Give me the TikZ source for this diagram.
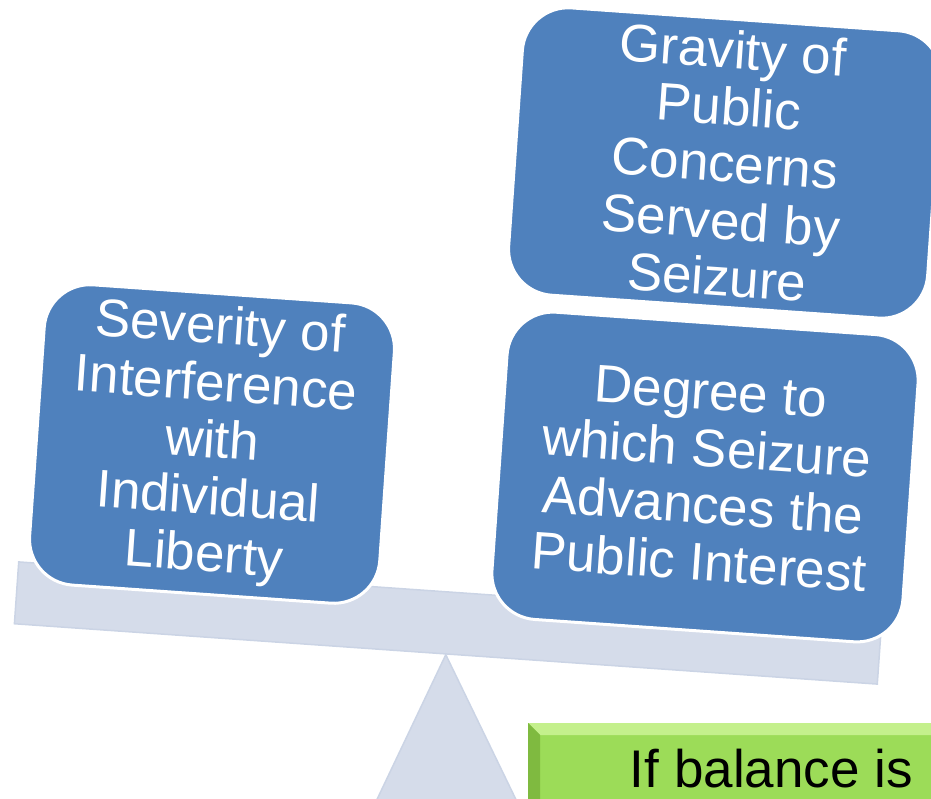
\documentclass[tikz,border=0pt]{standalone}
\usepackage{fontspec}
\setmainfont{Liberation Sans}
\usepackage{xcolor}
\usepackage{tikz}
\usetikzlibrary{positioning}

\definecolor{beamgray}{HTML}{D5DCEA}
\definecolor{beamedge}{HTML}{CBD4E5}
\definecolor{weightblue}{HTML}{4F81BD}
\definecolor{verdictgreen}{HTML}{9CDC58}
\definecolor{verdictlight}{HTML}{C4F08C}
\definecolor{verdictdark}{HTML}{7FBA40}

\begin{document}
\begin{tikzpicture}[x=1pt,y=-1pt]
					\tikzstyle{weight}=[rectangle,rounded corners=46pt,fill=weightblue,draw=white,line width=3pt,text=white,align=center,inner sep=0pt,rotate=-4,font=\fontsize{53}{57}\selectfont]
					\tikzstyle{plank}=[rectangle,fill=beamgray,draw=beamedge,line width=1.5pt,rotate=-4]
					\useasboundingbox (0,0) rectangle (931,799);
					\clip (0,0) rectangle (931,799);
					% beam and fulcrum
					\node[plank,minimum width=865,minimum height=62](beam) at (448,623){};
					\filldraw[fill=beamgray,draw=beamedge,line width=1.5pt] (beam.south) -- (371,812) -- (522,812) -- cycle;
					% the weights on the beam
					\node[weight,minimum width=351,minimum height=301](liberty) at (212,444){Severity of\\Interference\\with\\Individual\\Liberty};
					\node[weight,minimum width=412,minimum height=308](advance) at (705,477){Degree to\\which Seizure\\Advances the\\Public Interest};
					\node[weight,minimum width=420,minimum height=288](gravity) at (725,163){Gravity of\\Public\\Concerns\\Served by\\Seizure};
					% green result box, runs off the page
					\node[rectangle,fill=verdictgreen,anchor=north west,minimum width=420,minimum height=90,inner sep=0pt](verdict) at (528,723){};
					\fill[verdictlight] (verdict.north west) -- (verdict.north east) -- ++(0,12) -- ([shift={(12,12)}]verdict.north west) -- cycle;
					\fill[verdictdark] (verdict.north west) -- ([shift={(12,12)}]verdict.north west) -- ([xshift=12]verdict.south west) -- (verdict.south west) -- cycle;
					\node[anchor=base east,inner sep=0pt,font=\fontsize{53}{60}\selectfont](verdicttext) at (913,787){If balance is};
				\end{tikzpicture}
\end{document}
